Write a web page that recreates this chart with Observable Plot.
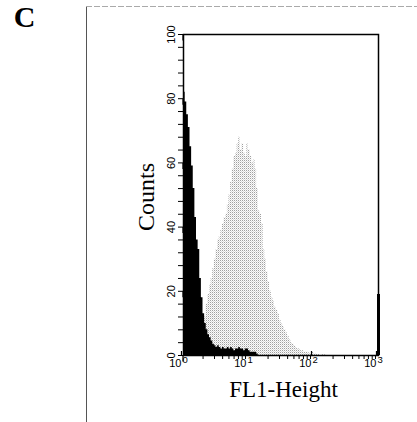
<!DOCTYPE html>
<html>
<head>
<meta charset="utf-8">
<script src="https://cdn.jsdelivr.net/npm/d3@7"></script>
<script src="https://cdn.jsdelivr.net/npm/@observablehq/plot@0.6"></script>
<style>
  html, body { margin: 0; padding: 0; background: #fff; }
  svg { display: block; }
</style>
</head>
<body>
<div id="chart"></div>
<script>
// Histogram bins in log10(FL1-Height) units, width 0.025 decade
const binWidth = 0.025;

// Black (control) histogram, first bin starts at log10 = 0
const blackStart = 0;
const blackCounts = [
  82, 79, 75, 71, 65, 59, 52, 43, 36, 33,
  24, 18, 13, 10, 8, 6.5, 5.5, 4.5, 3.5, 3,
  2.5, 3, 2.5, 2, 2.5, 2, 2, 2.5, 2, 2.5,
  2, 1.5, 2, 2, 2.5, 2, 2, 1.5, 2, 2,
  1.5, 1, 1, 1, 1, 0.5
];
// counts piled up in the last channel (at 10^3)
const lastChannelCount = [19];

// Gray (stained) histogram, first bin starts at log10 = 0.275
const grayStart = 0.275;
const grayCounts = [
  3, 8, 12, 16, 19, 22, 24, 27, 30, 33,
  36, 37, 39, 41, 43, 44, 47, 50, 54, 58,
  62, 63, 66, 68, 64, 66, 63, 62, 66, 64,
  62, 60, 61, 58, 52, 45, 44, 41, 33, 30,
  26, 23, 20, 18, 17, 15, 14, 13, 11, 10,
  9, 8, 7, 6, 5, 4, 3.5, 3, 2.5, 2,
  2, 1.5, 1.5, 1, 1, 1, 0.8, 0.5, 1, 0.5,
  0.5, 0.3, 0.3, 0, 0.3, 0, 0.3
];

// Axis ticks
const xMajorTicks = [1, 10, 100, 1000];
const xExponents = ["0", "1", "2", "3"];
const xMinorTicks = [2,3,4,5,6,7,8,9, 20,30,40,50,60,70,80,90, 200,300,400,500,600,700,800,900];
const yMajorTicks = [0, 20, 40, 60, 80, 100];
const yMinorTicks = d3.range(0, 101, 4);

const panelLetter = "C";
const xLabel = "FL1-Height";
const yLabel = "Counts";

function toSteps(start, counts) {
  const pts = counts.map((v, i) => ({x: Math.pow(10, start + i * binWidth), y: v}));
  pts.push({x: Math.pow(10, start + counts.length * binWidth), y: 0});
  return pts;
}
const blackData = toSteps(blackStart, blackCounts);
const grayData = toSteps(grayStart, grayCounts);

const sans = "Liberation Sans, Arial, sans-serif";
const serif = "Liberation Serif, Times New Roman, serif";

const chart = Plot.plot({
  width: 417,
  height: 422,
  marginLeft: 183,
  marginRight: 39,
  marginTop: 34,
  marginBottom: 67,
  style: {background: "#fff", color: "#000", fontFamily: sans, overflow: "visible"},
  x: {type: "log", domain: [1, 1000], label: null},
  y: {domain: [0, 100], label: null},
  marks: [
    Plot.areaY(grayData, {x: "x", y: "y", curve: "step-after", fill: "url(#stipple)"}),
    Plot.areaY(blackData, {x: "x", y: "y", curve: "step-after", fill: "#000"}),
    Plot.ruleX(lastChannelCount, {x: () => 1000, y1: 0, y2: d => d, stroke: "#000", strokeWidth: 3}),
    Plot.frame({stroke: "#000", strokeWidth: 1.5}),
    // y axis
    Plot.axisY({ticks: yMinorTicks, tickSize: 5, text: null, label: null, strokeWidth: 1}),
    Plot.axisY({ticks: yMajorTicks, tickSize: 6, tickPadding: 3, rotate: -90, label: null,
      textAnchor: "middle", lineAnchor: "bottom", fontSize: 11, fontFamily: sans, strokeWidth: 1.2}),
    // x axis
    Plot.axisX({ticks: xMinorTicks, tickSize: 4, text: null, label: null, strokeWidth: 1}),
    Plot.axisX({ticks: xMajorTicks, tickSize: 5, tickPadding: 3, tickFormat: () => "10", label: null,
      textAnchor: "end", dx: -2, dy: -4, fontSize: 11, fontFamily: sans, strokeWidth: 1.2}),
    Plot.text(xMajorTicks, {x: d => d, text: (d, i) => xExponents[i], frameAnchor: "bottom",
      textAnchor: "start", lineAnchor: "top", dx: -1, dy: 0.5, fontSize: 9.5, fontFamily: sans}),
    // axis titles
    Plot.text([yLabel], {frameAnchor: "left", text: d => d, rotate: -90, dx: -37, dy: 2,
      textAnchor: "middle", lineAnchor: "middle", fontSize: 24, fontFamily: serif}),
    Plot.text([xLabel], {frameAnchor: "bottom", text: d => d, dx: 2.5, dy: 34,
      textAnchor: "middle", lineAnchor: "middle", fontSize: 23, fontFamily: serif}),
    // panel letter
    Plot.text([panelLetter], {frameAnchor: "top-left", text: d => d, dx: -159, dy: -17,
      textAnchor: "middle", lineAnchor: "middle", fontSize: 30, fontWeight: "bold", fontFamily: serif})
  ]
});

// stipple pattern for the gray histogram
const svg = d3.select(chart);
const defs = svg.insert("defs", ":first-child");
const pat = defs.append("pattern").attr("id", "stipple")
  .attr("patternUnits", "userSpaceOnUse").attr("width", 2).attr("height", 2);
pat.append("rect").attr("width", 2).attr("height", 2).attr("fill", "#fcfcfc");
pat.append("rect").attr("x", 0).attr("y", 0).attr("width", 1).attr("height", 1).attr("fill", "#a0a0a0");
pat.append("rect").attr("x", 1).attr("y", 1).attr("width", 1).attr("height", 1).attr("fill", "#dadada");

// outer panel border (left and top)
svg.append("line").attr("x1", 86.5).attr("x2", 86.5).attr("y1", 6).attr("y2", 422)
  .attr("stroke", "#555").attr("stroke-width", 1);
svg.append("line").attr("x1", 86).attr("x2", 417).attr("y1", 6.5).attr("y2", 6.5)
  .attr("stroke", "#aaa").attr("stroke-width", 1).attr("stroke-dasharray", "6 2");

document.getElementById("chart").appendChild(chart);
</script>
</body>
</html>
